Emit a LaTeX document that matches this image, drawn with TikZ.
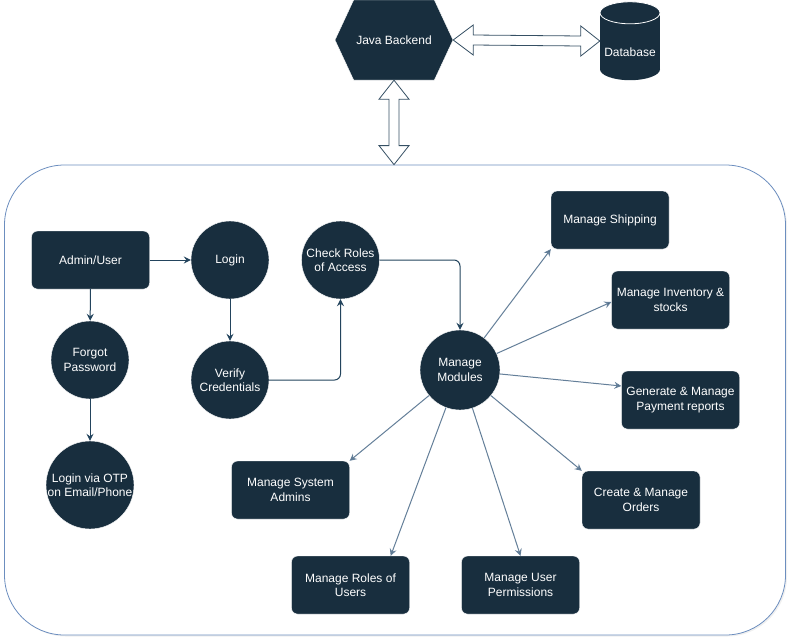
\documentclass[tikz,border=0pt]{standalone}
\usepackage{fontspec}
\setmainfont{Liberation Sans}
\usetikzlibrary{arrows.meta,positioning,calc,shapes.geometric,shapes.symbols,shadows}

\definecolor{navy}{HTML}{182E3E}
\definecolor{edgeblue}{HTML}{23445D}
\definecolor{spokeblue}{HTML}{647F99}
\definecolor{panelblue}{HTML}{6C8EBF}
\newcommand{\lab}{\fontsize{12}{14.5}\selectfont}

\begin{document}
\begin{tikzpicture}[
    x=1pt, y=-1pt,
    dark/.style={fill=navy, draw=white, text=white, font=\lab, align=center},
    roundbox/.style={dark, rounded corners=6pt, minimum width=118pt, minimum height=58pt, inner sep=0pt},
    bubble/.style={dark, circle, minimum size=78pt, inner sep=-4pt},
    flow/.style={line width=1pt, edgeblue, -{Stealth[length=7pt, width=7pt, inset=2.5pt]}},
    spoke/.style={line width=1pt, spokeblue, -{Stealth[length=7pt, width=7pt, inset=2.5pt, fill=edgeblue]}},
    bigarrow/.style={line width=0.8pt, draw=edgeblue!80!gray, fill=white, line join=miter}
  ]
  \useasboundingbox (0,0) rectangle (791,643);

  % outer panel
  \node[draw=panelblue, fill=white, line width=0.8pt, rounded corners=60pt,
        minimum width=781pt, minimum height=470pt,
        drop shadow={shadow xshift=1.5pt, shadow yshift=-1.5pt, opacity=0.12}] (panel) at (395,400) {};

  % backend and database
  \node[dark, signal, signal to=west and east, signal pointer angle=130,
        minimum width=118pt, minimum height=80pt, inner sep=0pt] (jb) at (394,40) {Java Backend};
  \node[minimum width=60pt, minimum height=78pt, inner sep=0pt] (db) at (630,41) {};
  \fill[navy] ($(db.south west)+(0,-11)$) rectangle ($(db.north east)+(0,11)$);
  \fill[navy] ($(db.south)+(0,-11)$) ellipse[x radius=30, y radius=11];
  \filldraw[fill=navy, draw=white, line width=0.8pt] ($(db.north)+(0,11)$) ellipse[x radius=30, y radius=11];
  \node[text=white, font=\lab] (dblab) at ($(db.center)+(0,11)$) {Database};

  % double arrows
  \coordinate (ha) at (jb.east);
  \coordinate (hb) at (db.west);
  \draw[bigarrow] (ha) -- ($(ha)+(20,-15)$) -- ($(ha)+(20,-5)$) -- ($(hb)+(-19,-5)$)
    -- ($(hb)+(-19,-15)$) -- (hb) -- ($(hb)+(-19,15)$) -- ($(hb)+(-19,5)$)
    -- ($(ha)+(20,5)$) -- ($(ha)+(20,15)$) -- cycle;
  \coordinate (va) at (jb.south);
  \coordinate (vb) at (jb.south |- panel.north);
  \draw[bigarrow] (va) -- ($(va)+(15,19)$) -- ($(va)+(5,19)$) -- ($(vb)+(5,-19)$)
    -- ($(vb)+(15,-19)$) -- (vb) -- ($(vb)+(-15,-19)$) -- ($(vb)+(-5,-19)$)
    -- ($(va)+(-5,19)$) -- ($(va)+(-15,19)$) -- cycle;

  % login flow
  \node[roundbox] (admin) at (90.5,260) {Admin/User};
  \node[bubble] (login) at (230,260) {Login};
  \node[bubble] (check) at (340.5,260) {Check Roles\\of Access};
  \node[bubble] (forgot) at (90,360) {Forgot\\Password};
  \node[bubble] (verify) at (230,380) {Verify\\Credentials};
  \node[bubble, minimum size=88pt] (otp) at (90,485) {Login via OTP\\on Email/Phone};
  \node[bubble, minimum size=80pt] (mm) at (460,370) {Manage\\Modules};

  % modules
  \node[roundbox] (ship) at (610,220) {Manage Shipping};
  \node[roundbox] (inv) at (670.5,300) {Manage Inventory \&\\stocks};
  \node[roundbox] (pay) at (680.5,400) {Generate \& Manage\\Payment reports};
  \node[roundbox] (orders) at (641,500) {Create \& Manage\\Orders};
  \node[roundbox] (sysadm) at (290.5,490) {Manage System\\Admins};
  \node[roundbox] (roles) at (350.5,585) {Manage Roles of\\Users};
  \node[roundbox] (perm) at (520.5,585) {Manage User\\Permissions};

  \draw[flow] (admin) -- (login);
  \draw[flow] (admin) -- (forgot);
  \draw[flow] (forgot) -- (otp);
  \draw[flow] (login) -- (verify);
  \draw[flow, rounded corners=6pt] (verify.east) -| (check.south);
  \draw[flow, rounded corners=6pt] (check.east) -| (mm.north);

  \draw[spoke] (mm) -- (ship.south west);
  \draw[spoke] (mm) -- ([yshift=-2pt]inv.west);
  \draw[spoke] (mm) -- ([yshift=14pt]pay.west);
  \draw[spoke] (mm) -- (orders.north west);
  \draw[spoke] (mm) -- (perm.north);
  \draw[spoke] (mm) -- ([xshift=-19pt]roles.north east);
  \draw[spoke] (mm) -- (sysadm.north east);
\end{tikzpicture}
\end{document}
